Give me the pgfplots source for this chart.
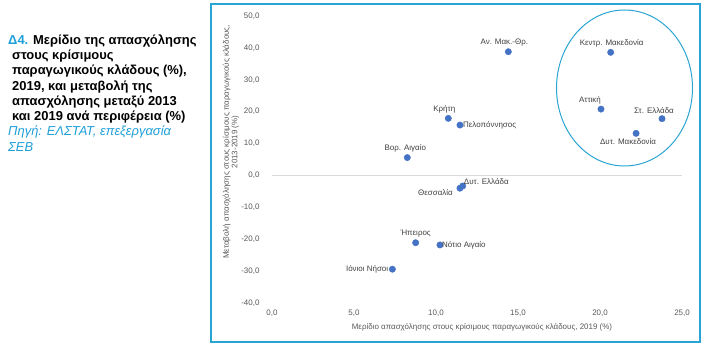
\documentclass[border=0pt]{standalone}
\usepackage{fontspec}
\setmainfont{Liberation Sans}
\usepackage{pgfplots}
\pgfplotsset{compat=1.18}
\definecolor{framecol}{HTML}{2AA4D2}
\definecolor{titlecol}{HTML}{1F9FD8}
\definecolor{dotcol}{HTML}{4472C4}
\definecolor{ticktxt}{HTML}{595959}
\definecolor{lbltxt}{HTML}{404040}
\definecolor{zeroline}{HTML}{D9D9D9}

% one region: x, y, label, anchor, dx, dy
\newcommand\region[6]{%
  \addplot[only marks, mark=*, mark size=3.2bp, color=dotcol,
    nodes near coords={#3},
    every node near coord/.append style={anchor=#4, xshift=#5bp, yshift=#6bp,
      inner sep=1bp, text=lbltxt, font=\fontsize{8}{9.6}\selectfont},
  ] coordinates {(#1,#2)};}

\begin{document}
\begin{tikzpicture}
\path[use as bounding box] (0,0) rectangle (705bp,352bp);
% frame
\draw[framecol, line width=1.4bp] (211bp,10bp) rectangle (700bp,348bp);
% title
\begin{scope}[every node/.style={anchor=base west, inner sep=0pt, font=\fontsize{13}{15.6}\selectfont\bfseries}]
\node at (8bp,{352bp-44.2bp}) {\textcolor{titlecol}{Δ4.} Μερίδιο της απασχόλησης};
\node at (12bp,{352bp-59.5bp}) {στους κρίσιμους};
\node at (12bp,{352bp-74.8bp}) {παραγωγικούς κλάδους (\%),};
\node at (12bp,{352bp-90.1bp}) {2019, και μεταβολή της};
\node at (12bp,{352bp-105.4bp}) {απασχόλησης μεταξύ 2013};
\node at (12bp,{352bp-120.7bp}) {και 2019 ανά περιφέρεια (\%)};
\node[font=\fontsize{13}{15.6}\selectfont\itshape, text=titlecol] at (8bp,{352bp-136bp}) {Πηγή: ΕΛΣΤΑΤ, επεξεργασία};
\node[font=\fontsize{13}{15.6}\selectfont\itshape, text=titlecol] at (8bp,{352bp-151.3bp}) {ΣΕΒ};
\end{scope}

\begin{axis}[
  at={(272bp,49bp)}, anchor=south west,
  scale only axis, width=410bp, height=287bp,
  xmin=0, xmax=25, ymin=-40, ymax=50,
  xtick={0,5,...,25}, ytick={-40,-30,...,50},
  axis line style={draw=none}, tick style={draw=none},
  ticklabel style={font=\fontsize{8}{9.6}\selectfont, text=ticktxt},
  /pgf/number format/use comma,
  /pgf/number format/fixed,
  /pgf/number format/fixed zerofill,
  /pgf/number format/precision=1,
  /pgf/number format/assume math mode=true,
  yticklabel style={xshift=-9bp},
  xticklabel style={yshift=-3bp},
  extra y ticks={0}, extra y tick labels={},
  extra y tick style={grid=major, major grid style={zeroline, line width=1.5bp}},
  clip=false,
]
\region{14.41}{38.8}{Αν. Μακ.-Θρ.}{south}{-4}{4}
\region{20.65}{38.6}{Κεντρ. Μακεδονία}{south}{1}{4}
\region{20.06}{20.8}{Αττική}{south}{-11}{4}
\region{23.78}{17.8}{Στ. Ελλάδα}{south}{-8}{4}
\region{22.20}{13.2}{Δυτ. Μακεδονία}{north}{-8}{-4}
\region{10.75}{17.9}{Κρήτη}{south}{-4}{4}
\region{11.46}{15.8}{Πελοπόννησος}{west}{2}{0}
\region{8.25}{5.6}{Βορ. Αιγαίο}{south}{-2}{4}
\region{11.46}{-4.0}{Θεσσαλία}{east}{-6}{-4}
\region{11.63}{-3.3}{Δυτ. Ελλάδα}{west}{0}{4}
\region{8.76}{-21.1}{Ήπειρος}{south}{0}{4}
\region{10.24}{-21.8}{Νότιο Αιγαίο}{west}{1}{0}
\region{7.34}{-29.4}{Ιόνιοι Νήσοι}{east}{-3}{0}
\end{axis}

% axis titles
\node[rotate=90, align=center, text=ticktxt, font=\fontsize{8}{8.5}\selectfont, inner sep=0pt]
  at (231bp,210bp) {Μεταβολή απασχόλησης στους κρίσιμους παραγωγικούς κλάδους,\\2013-2019 (\%)};
\node[text=ticktxt, font=\fontsize{8}{9.6}\selectfont, inner sep=0pt]
  at (482bp,25bp) {Μερίδιο απασχόλησης στους κρίσιμους παραγωγικούς κλάδους, 2019 (\%)};
% highlight ellipse
\draw[framecol, line width=1bp] (624.5bp,264bp) ellipse [x radius=68bp, y radius=78bp];
\end{tikzpicture}
\end{document}
